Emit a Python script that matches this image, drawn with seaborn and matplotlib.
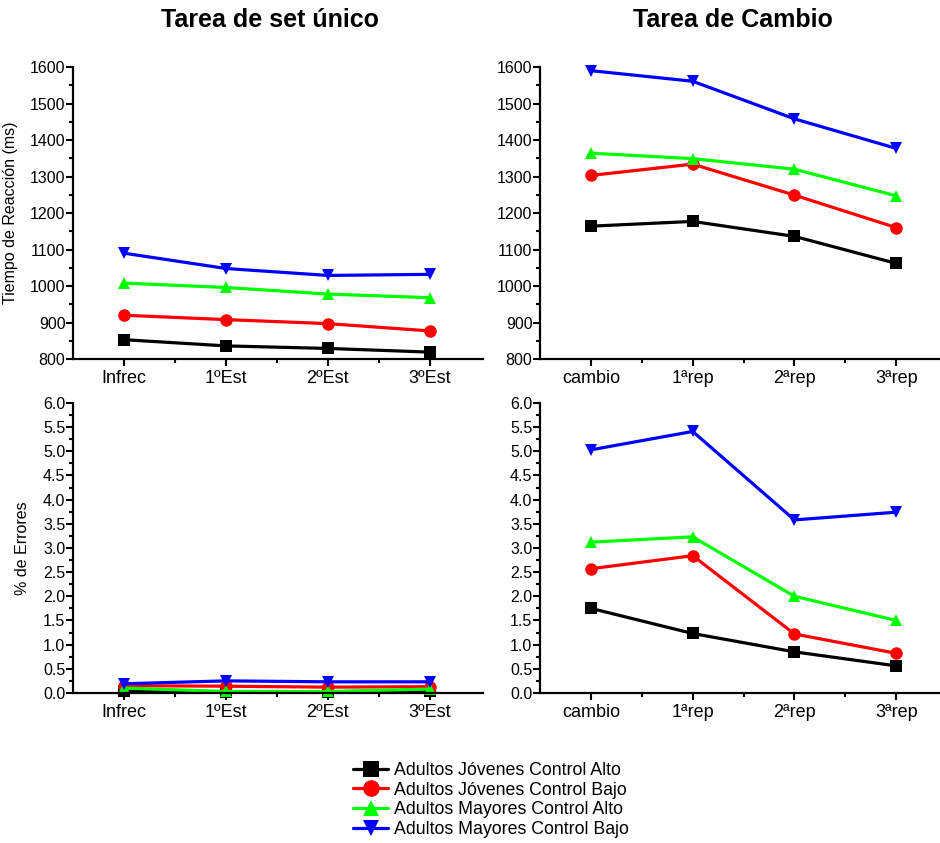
import matplotlib
matplotlib.use("Agg")
from matplotlib import pyplot as plt
from matplotlib.ticker import MultipleLocator, FixedLocator, FormatStrFormatter
import seaborn as sns
import pandas as pd

# Categorías del eje x
cats_unico = ["Infrec", "1ºEst", "2ºEst", "3ºEst"]
cats_cambio = ["cambio", "1ªrep", "2ªrep", "3ªrep"]

grupos = ["Adultos Jóvenes Control Alto", "Adultos Jóvenes Control Bajo",
          "Adultos Mayores Control Alto", "Adultos Mayores Control Bajo"]

# Tiempo de reacción (ms) - tarea de set único
tr_unico_jca = [853, 836, 829, 819]
tr_unico_jcb = [920, 908, 897, 877]
tr_unico_mca = [1008, 996, 978, 968]
tr_unico_mcb = [1090, 1048, 1029, 1032]

# Tiempo de reacción (ms) - tarea de cambio
tr_cambio_jca = [1164, 1177, 1136, 1062]
tr_cambio_jcb = [1303, 1334, 1249, 1160]
tr_cambio_mca = [1364, 1349, 1320, 1247]
tr_cambio_mcb = [1590, 1561, 1458, 1377]

# % de errores - tarea de set único
err_unico_jca = [0.05, 0.02, 0.02, 0.05]
err_unico_jcb = [0.15, 0.14, 0.12, 0.13]
err_unico_mca = [0.10, 0.03, 0.03, 0.08]
err_unico_mcb = [0.19, 0.25, 0.23, 0.23]

# % de errores - tarea de cambio
err_cambio_jca = [1.75, 1.23, 0.85, 0.56]
err_cambio_jcb = [2.57, 2.84, 1.22, 0.82]
err_cambio_mca = [3.12, 3.23, 2.00, 1.50]
err_cambio_mcb = [5.03, 5.41, 3.58, 3.74]

colores = ["#000000", "#FF0000", "#00FF00", "#0000FF"]
marcadores = ["s", "o", "^", "v"]


def tabla(cats, series):
    filas = []
    for grupo, valores in zip(grupos, series):
        for c, v in zip(cats, valores):
            filas.append({"cond": c, "valor": v, "grupo": grupo})
    return pd.DataFrame(filas)


def panel(ax, cats, series, ylim, major, minor, xmax):
    df = tabla(cats, series)
    sns.lineplot(data=df, x="cond", y="valor", hue="grupo", style="grupo",
                 hue_order=grupos, style_order=grupos, palette=colores,
                 markers=marcadores, dashes=False, sort=False, ax=ax,
                 linewidth=2.3, markersize=9, markeredgewidth=0,
                 clip_on=False, legend=False)
    ax.set_xlim(-0.5, xmax)
    ax.set_ylim(*ylim)
    ax.yaxis.set_major_locator(MultipleLocator(major))
    ax.yaxis.set_minor_locator(MultipleLocator(minor))
    ax.xaxis.set_minor_locator(FixedLocator([0.5, 1.5, 2.5]))
    ax.set_xlabel("")
    ax.set_ylabel("")
    for s in ["top", "right"]:
        ax.spines[s].set_visible(False)
    for s in ["left", "bottom"]:
        ax.spines[s].set_linewidth(1.6)
        ax.spines[s].set_color("black")
    ax.tick_params(axis="both", which="both", color="black", labelcolor="black")
    ax.tick_params(axis="y", which="major", length=5, width=1.5, pad=0.5, labelsize=11.5)
    ax.tick_params(axis="y", which="minor", length=3, width=1.5)
    ax.tick_params(axis="x", which="major", length=5, width=1.5, pad=3, labelsize=13)
    ax.tick_params(axis="x", which="minor", length=3, width=1.5)


def main():
    sns.set_theme(style="ticks")
    plt.rcParams["font.family"] = ["Liberation Sans", "DejaVu Sans"]
    plt.rcParams["text.color"] = "black"
    plt.rcParams["axes.labelcolor"] = "black"

    fig = plt.figure(figsize=(9.4, 8.43), dpi=100)
    ax_tl = fig.add_axes([0.0777, 0.5741, 0.436, 0.3464])
    ax_tr = fig.add_axes([0.5745, 0.5741, 0.4255, 0.3464])
    ax_bl = fig.add_axes([0.0777, 0.178, 0.436, 0.344])
    ax_br = fig.add_axes([0.5745, 0.178, 0.4255, 0.344])

    panel(ax_tl, cats_unico, [tr_unico_jca, tr_unico_jcb, tr_unico_mca, tr_unico_mcb],
          (800, 1600), 100, 50, 3.52)
    panel(ax_tr, cats_cambio, [tr_cambio_jca, tr_cambio_jcb, tr_cambio_mca, tr_cambio_mcb],
          (800, 1600), 100, 50, 3.43)
    panel(ax_bl, cats_unico, [err_unico_jca, err_unico_jcb, err_unico_mca, err_unico_mcb],
          (0, 6), 0.5, 0.25, 3.52)
    panel(ax_br, cats_cambio, [err_cambio_jca, err_cambio_jcb, err_cambio_mca, err_cambio_mcb],
          (0, 6), 0.5, 0.25, 3.43)
    for ax in (ax_bl, ax_br):
        ax.yaxis.set_major_formatter(FormatStrFormatter("%.1f"))

    ax_tl.set_ylabel("Tiempo de Reacción (ms)", fontsize=11.5, color="black")
    ax_tl.yaxis.set_label_coords(-0.134, 0.5)
    ax_bl.set_ylabel("% de Errores", fontsize=11.5, color="black")
    ax_bl.yaxis.set_label_coords(-0.105, 0.5)

    fig.text(0.287, 0.976, "Tarea de set único", ha="center", va="center",
             fontsize=18, fontweight="bold", color="black")
    fig.text(0.78, 0.976, "Tarea de Cambio", ha="center", va="center",
             fontsize=18, fontweight="bold", color="black")

    handles = [plt.Line2D([], [], color=c, marker=m, linewidth=2.3, markersize=12,
                          markeredgewidth=0)
               for c, m in zip(colores, marcadores)]
    leg = fig.legend(handles, grupos, loc="center", bbox_to_anchor=(0.522, 0.051),
                     frameon=False, fontsize=12.8, handlelength=2.0, handletextpad=0.3,
                     labelspacing=0.15, borderpad=0)
    for t in leg.get_texts():
        t.set_color("black")

    fig.savefig("out.png", dpi=100)


if __name__ == "__main__":
    main()
